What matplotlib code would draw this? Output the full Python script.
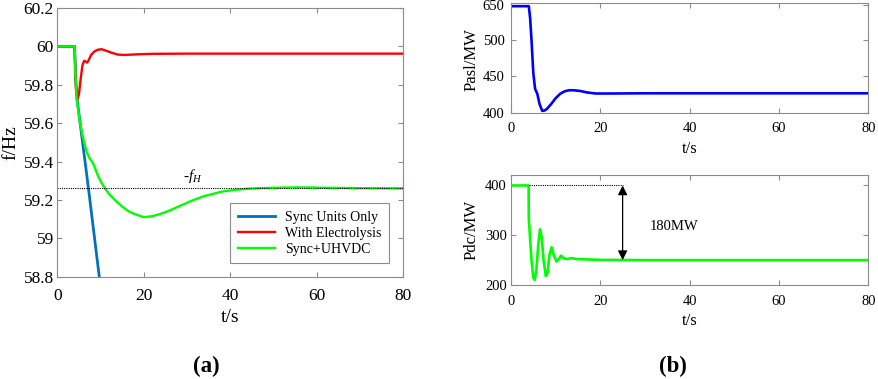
import matplotlib
matplotlib.use('Agg')
import matplotlib.pyplot as plt

plt.rcParams['font.family'] = ['Liberation Serif', 'DejaVu Serif']
plt.rcParams['mathtext.fontset'] = 'custom'
plt.rcParams['mathtext.rm'] = 'Liberation Serif'
plt.rcParams['mathtext.it'] = 'Liberation Serif:italic'

# ---- data ----
# (a) frequency
t_sync = [0, 4.0, 4.2, 4.6, 7.2, 10.0]
f_sync = [60.0, 60.0, 59.85, 59.72, 59.26, 58.745]

t_elec = [0, 4.0, 4.3, 4.6, 5.0, 5.4, 5.8, 6.2, 6.6, 6.9, 7.3, 7.8, 8.5, 9.3, 10.2,
          11.2, 12.5, 14.0, 15.5, 18, 22, 30, 80]
f_elec = [60.0, 60.0, 59.78, 59.72, 59.75, 59.83, 59.90, 59.925, 59.92, 59.915, 59.93,
          59.955, 59.972, 59.982, 59.985, 59.978, 59.967, 59.957, 59.955, 59.958, 59.961,
          59.962, 59.962]

t_uhv = [0, 4.0, 4.2, 4.5, 4.9, 5.25, 5.7, 6.2, 6.8, 7.5, 8.0, 8.3, 8.8, 9.5, 10.2, 11.0,
         12.0, 13.5, 15.0, 16.5, 18.0, 20.0, 22.0, 24.0, 26.0, 28.0, 31.0, 34.0, 38.0,
         41.0, 44.0, 48.0, 52.0, 56.0, 62.0, 70.0, 80.0]
f_uhv = [60.0, 60.0, 59.85, 59.72, 59.66, 59.60, 59.55, 59.50, 59.45, 59.415, 59.40,
         59.39, 59.36, 59.32, 59.29, 59.26, 59.23, 59.195, 59.165, 59.14, 59.125, 59.11,
         59.115, 59.128, 59.145, 59.165, 59.195, 59.22, 59.243, 59.252, 59.258, 59.262,
         59.264, 59.265, 59.263, 59.261, 59.26]

f_limit = 59.26

# (b) upper: Pasl
t_pasl = [0, 4.0, 4.3, 4.6, 5.0, 5.4, 5.9, 6.4, 7.0, 7.5, 8.0, 9.0, 10.0, 11.0, 12.0,
          13.0, 14.0, 15.5, 17.0, 19.0, 22.0, 30.0, 80.0]
p_asl = [547, 547, 530, 500, 455, 433, 426, 412, 402.5, 403, 405, 412, 420, 426, 429.5,
         431, 431, 430, 428, 426.5, 426.5, 426.8, 426.8]
pasl_ticks = [400, 450, 500, 548]
pasl_ticklabels = ['400', '450', '500', '650']

# (b) lower: Pdc
t_pdc = [0, 3.95, 4.0, 4.1, 4.3, 4.6, 5.0, 5.3, 5.7, 6.1, 6.5, 6.9, 7.3, 7.8, 8.2,
         8.6, 9.1, 9.6, 10.2, 10.7, 11.2, 11.8, 12.5, 13.5, 15.0, 20.0, 30.0, 80.0]
p_dc = [400, 400, 330, 320, 290, 250, 215, 210, 230, 280, 312, 295, 250, 218, 225,
        260, 276, 260, 247, 252, 259, 254, 252, 254, 252, 250.5, 250, 250]
pdc_drop_t = 25
pdc_before = 400
pdc_after = 250
drop_label = '180MW'

fig = plt.figure(figsize=(8.79, 3.79), dpi=100)

def style(ax, size, xpad, ypad):
    for s in ax.spines.values():
        s.set_color('#8c8c8c')
        s.set_linewidth(0.8)
    ax.tick_params(direction='in', top=True, right=True, length=3.5,
                   color='#8c8c8c', labelsize=size, labelcolor='black')
    ax.tick_params(axis='x', pad=xpad)
    ax.tick_params(axis='y', pad=ypad)

# ---- panel (a) ----
ax1 = fig.add_axes([0.0652, 0.270, 0.3936, 0.709])
ax1.plot(t_sync, f_sync, color='#0072BD', lw=2.0, label='Sync Units Only')
ax1.plot(t_elec, f_elec, color='#FF0000', lw=1.7, label='With Electrolysis')
ax1.plot(t_uhv, f_uhv, color='#00FF00', lw=1.7, label='Sync+UHVDC')
ax1.axhline(f_limit, color='black', ls=(0, (1, 1)), lw=0.8)
ax1.text(31.3, f_limit + 0.02, r'-$f_H$', fontsize=11, style='italic',
         ha='center', va='bottom')
ax1.set_xlim(0, 80)
ax1.set_ylim(58.8, 60.2)
ax1.set_xticks([0, 20, 40, 60, 80])
ax1.set_yticks([58.8, 59.0, 59.2, 59.4, 59.6, 59.8, 60.0, 60.2])
ax1.set_yticklabels(['58.8', '59', '59.2', '59.4', '59.6', '59.8', '60', '60.2'])
style(ax1, 12.5, 8, 2.5)
ax1.set_xlabel('t/s', fontsize=14, labelpad=4)
ax1.set_ylabel('f/Hz', fontsize=14, labelpad=3)
leg = ax1.legend(loc='lower right', bbox_to_anchor=(0.9595, 0.05), fontsize=10,
                 fancybox=False, framealpha=1, edgecolor='#8c8c8c',
                 handlelength=2.65, labelspacing=0.2, borderpad=0.55,
                 handletextpad=0.75, borderaxespad=0)
leg.get_frame().set_linewidth(0.8)

# ---- panel (b) upper ----
ax2 = fig.add_axes([0.5813, 0.7026, 0.4065, 0.2887])
ax2.plot(t_pasl, p_asl, color='#0000FF', lw=1.9)
ax2.set_xlim(0, 80)
ax2.set_ylim(400, 551)
ax2.set_xticks([0, 20, 40, 60, 80])
ax2.set_yticks(pasl_ticks)
ax2.set_yticklabels(pasl_ticklabels)
style(ax2, 10.5, 7, 4.5)
ax2.set_xlabel('t/s', fontsize=12, labelpad=4)
ax2.set_ylabel('Pasl/MW', fontsize=12)
ax2.yaxis.set_label_coords(-0.088, 0.49)

# ---- panel (b) lower ----
ax3 = fig.add_axes([0.5813, 0.248, 0.4065, 0.2902])
ax3.plot(t_pdc, p_dc, color='#00FF00', lw=1.9)
ax3.plot([4.0, pdc_drop_t], [pdc_before, pdc_before], color='black',
         ls=(0, (1, 1)), lw=0.8)
ax3.annotate('', xy=(pdc_drop_t, pdc_after), xytext=(pdc_drop_t, pdc_before),
             arrowprops=dict(arrowstyle='<|-|>', color='black', lw=0.9,
                             mutation_scale=14, shrinkA=0, shrinkB=0))
ax3.text(31.0, 317, drop_label, fontsize=10.5, ha='left', va='center')
ax3.set_xlim(0, 80)
ax3.set_ylim(200, 421)
ax3.set_xticks([0, 20, 40, 60, 80])
ax3.set_yticks([200, 300, 400])
style(ax3, 10.5, 7, 3)
ax3.set_xlabel('t/s', fontsize=12, labelpad=4)
ax3.set_ylabel('Pdc/MW', fontsize=12)
ax3.yaxis.set_label_coords(-0.088, 0.5)

fig.text(0.235, 0.032, '(a)', fontsize=16.5, fontweight='bold', ha='center', va='center')
fig.text(0.766, 0.032, '(b)', fontsize=16.5, fontweight='bold', ha='center', va='center')

fig.savefig('out.png', dpi=100)
